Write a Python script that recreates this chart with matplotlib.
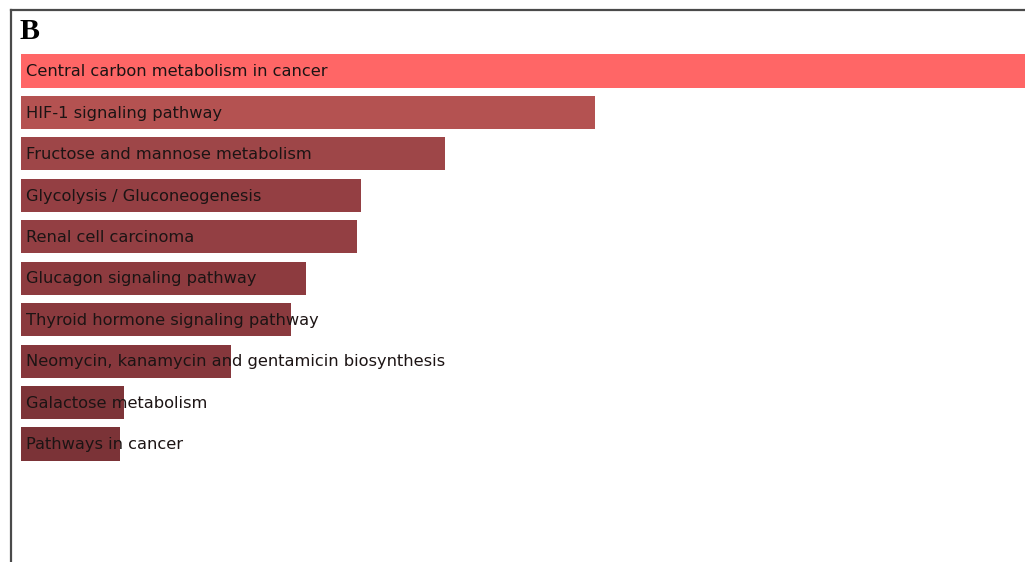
import matplotlib
matplotlib.use("Agg")
import matplotlib.pyplot as plt
from matplotlib.lines import Line2D

# enrichment terms, top to bottom
terms = [
    "Central carbon metabolism in cancer",
    "HIF-1 signaling pathway",
    "Fructose and mannose metabolism",
    "Glycolysis / Gluconeogenesis",
    "Renal cell carcinoma",
    "Glucagon signaling pathway",
    "Thyroid hormone signaling pathway",
    "Neomycin, kanamycin and gentamicin biosynthesis",
    "Galactose metabolism",
    "Pathways in cancer",
]
scores = [100.0, 57.2, 42.2, 33.9, 33.5, 28.4, 26.9, 20.9, 10.3, 9.9]
colors = ["#ff6666", "#b45251", "#9e4648", "#943f43", "#933f43",
          "#8d3b3f", "#8a3a3e", "#86373c", "#7d3438", "#7b3337"]

W, H = 1025, 562
fig = plt.figure(figsize=(W / 100, H / 100), dpi=100)

# axes: x starts at bar origin, y unit = row spacing
x0 = 21
ax = fig.add_axes([x0 / W, 0, 1 - x0 / W, 1])
step = 41.44
top_c = 71
ax.set_ylim((H - top_c) / step, -top_c / step)
ax.set_xlim(0, scores[0])
ax.axis("off")

ypos = list(range(len(terms)))
ax.barh(ypos, scores, height=0.8, color=colors)

for y, t in zip(ypos, terms):
    ax.annotate(t, xy=(0, y), xytext=(3.8, -0.5), textcoords="offset points",
                va="center", ha="left", fontsize=11.7, color="#1c1414",
                family="DejaVu Sans")

# panel frame (left and top edges)
fig.add_artist(Line2D([10.5 / W, 10.5 / W], [0, 1 - 9.5 / H],
                      transform=fig.transFigure, color="#4a4a4a", lw=1.6))
fig.add_artist(Line2D([10.5 / W, 1], [1 - 9.5 / H, 1 - 9.5 / H],
                      transform=fig.transFigure, color="#4a4a4a", lw=1.6))

fig.text(19 / W, 1 - 39 / H, "B", fontsize=21.5, fontweight="bold",
         family="Liberation Serif", color="#000000")

fig.savefig("out.png", dpi=100)
